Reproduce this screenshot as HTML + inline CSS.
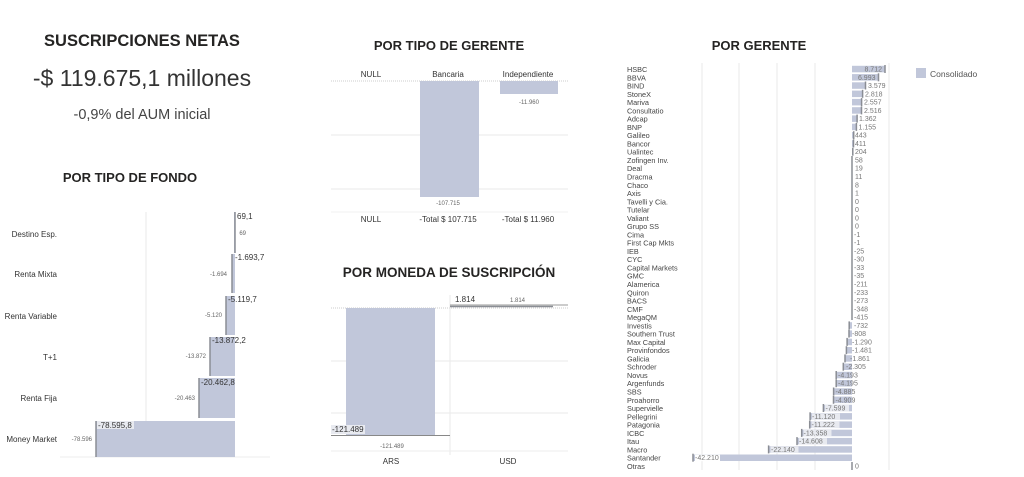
<!DOCTYPE html>
<html><head><meta charset="utf-8"><style>
html,body{margin:0;padding:0;background:#fff;}
svg{display:block;font-family:"Liberation Sans",sans-serif;}
.t{font-weight:bold;fill:#252423;}
.s{font-size:8px;fill:#333;}
.x{font-size:6px;fill:#666;}
.g{stroke:#eaeaea;stroke-width:1;}
.b{fill:#c1c7da;}
.e{stroke:#8a8d94;stroke-width:1.5;}
.n{font-size:7.3px;fill:#444;}
.v{font-size:7px;fill:#777;}
</style></head><body>
<svg width="1024" height="477" viewBox="0 0 1024 477">
<!-- Headline -->
<text class="t" x="142" y="46" font-size="16.5" text-anchor="middle">SUSCRIPCIONES NETAS</text>
<text x="142" y="86" font-size="23" fill="#333" text-anchor="middle">-$ 119.675,1 millones</text>
<text x="142" y="119" font-size="14.5" fill="#444" text-anchor="middle">-0,9% del AUM inicial</text>
<text class="t" x="130" y="182" font-size="13" text-anchor="middle">POR TIPO DE FONDO</text>

<!-- Tipo de fondo -->
<line class="g" x1="146" y1="212" x2="146" y2="457"/>
<line x1="60" y1="457" x2="270" y2="457" stroke="#eee"/>
<g class="s" text-anchor="end">
<text x="57" y="237">Destino Esp.</text>
<text x="57" y="277">Renta Mixta</text>
<text x="57" y="319">Renta Variable</text>
<text x="57" y="360">T+1</text>
<text x="57" y="401">Renta Fija</text>
<text x="57" y="442">Money Market</text>
</g>
<rect class="b" x="234" y="212" width="1" height="41"/>
<line class="e" x1="235" y1="212" x2="235" y2="253"/>
<rect class="b" x="232" y="254" width="3" height="39"/>
<line class="e" x1="232" y1="254" x2="232" y2="293"/>
<rect class="b" x="226" y="296" width="9" height="39"/>
<line class="e" x1="226" y1="296" x2="226" y2="335"/>
<rect class="b" x="210" y="337" width="25" height="39"/>
<line class="e" x1="210" y1="337" x2="210" y2="376"/>
<rect class="b" x="199" y="378" width="36" height="40"/>
<line class="e" x1="199" y1="378" x2="199" y2="418"/>
<rect class="b" x="96" y="421" width="139" height="36"/>
<line class="e" x1="96" y1="421" x2="96" y2="457"/>
<g class="s">
<text x="237" y="219">69,1</text>
<text x="235" y="260">-1.693,7</text>
<text x="228" y="302">-5.119,7</text>
<text x="212" y="343">-13.872,2</text>
<text x="201" y="385">-20.462,8</text>
<rect x="97" y="421" width="37" height="8" fill="#e8eaf0"/>
<text x="98" y="428">-78.595,8</text>
</g>
<g class="x" text-anchor="end">
<text x="246" y="235">69</text>
<text x="227" y="276">-1.694</text>
<text x="222" y="317">-5.120</text>
<text x="206" y="358">-13.872</text>
<text x="195" y="400">-20.463</text>
<text x="92" y="441">-78.596</text>
</g>

<!-- Tipo de gerente -->
<text class="t" x="449" y="50" font-size="13" text-anchor="middle">POR TIPO DE GERENTE</text>
<g class="s" text-anchor="middle">
<text x="371" y="77">NULL</text>
<text x="448" y="77">Bancaria</text>
<text x="528" y="77">Independiente</text>
</g>
<line x1="331" y1="81" x2="568" y2="81" stroke="#ccc" stroke-dasharray="1,1"/>
<line class="g" x1="331" y1="135" x2="568" y2="135"/>
<line class="g" x1="331" y1="189" x2="568" y2="189"/>
<rect class="b" x="420" y="81" width="59" height="116"/>
<rect class="b" x="500" y="81" width="58" height="13"/>
<text class="x" x="448" y="205" text-anchor="middle">-107.715</text>
<text class="x" x="529" y="104" text-anchor="middle">-11.960</text>
<line x1="331" y1="212" x2="568" y2="212" stroke="#f2f2f2"/>
<g class="s" text-anchor="middle">
<text x="371" y="222">NULL</text>
<text x="448" y="222">-Total $ 107.715</text>
<text x="528" y="222">-Total $ 11.960</text>
</g>

<!-- Moneda -->
<text class="t" x="449" y="277" font-size="13.5" text-anchor="middle">POR MONEDA DE SUSCRIPCIÓN</text>
<line x1="331" y1="308" x2="568" y2="308" stroke="#ccc" stroke-dasharray="1,1"/>
<line class="g" x1="331" y1="361" x2="568" y2="361"/>
<line class="g" x1="331" y1="413" x2="568" y2="413"/>
<line class="g" x1="450" y1="295" x2="450" y2="455"/>
<rect class="b" x="346" y="308" width="89" height="128"/>
<line x1="331" y1="435.5" x2="450" y2="435.5" stroke="#888" stroke-width="1"/>
<line x1="450" y1="305" x2="568" y2="305" stroke="#999" stroke-width="1"/>
<line x1="450" y1="306.5" x2="553" y2="306.5" stroke="#8a8d94" stroke-width="1.5"/>
<rect x="331" y="425" width="34" height="9" fill="#e8eaf0"/>
<text class="s" x="332" y="432">-121.489</text>
<text class="x" x="392" y="448" text-anchor="middle">-121.489</text>
<text class="s" x="455" y="302">1.814</text>
<text class="x" x="510" y="302">1.814</text>
<line x1="331" y1="451" x2="568" y2="451" stroke="#eee"/>
<g class="s" text-anchor="middle">
<text x="391" y="464">ARS</text>
<text x="508" y="464">USD</text>
</g>

<!-- Por gerente -->
<text class="t" x="759" y="50" font-size="13" text-anchor="middle">POR GERENTE</text>
<g class="g">
<line x1="702" y1="63" x2="702" y2="470"/>
<line x1="739" y1="63" x2="739" y2="470"/>
<line x1="777" y1="63" x2="777" y2="470"/>
<line x1="815" y1="63" x2="815" y2="470"/>
<line x1="889" y1="63" x2="889" y2="470"/>
</g>
<rect class="b" x="916" y="68" width="10" height="10"/>
<text x="930" y="77" font-size="8.5" fill="#555">Consolidado</text>
<g class="n">
<text x="627" y="72">HSBC</text><text x="627" y="80.3">BBVA</text><text x="627" y="88.5">BIND</text><text x="627" y="96.8">StoneX</text><text x="627" y="105.1">Mariva</text><text x="627" y="113.4">Consultatio</text><text x="627" y="121.6">Adcap</text><text x="627" y="129.9">BNP</text><text x="627" y="138.2">Galileo</text><text x="627" y="146.4">Bancor</text><text x="627" y="154.7">Ualintec</text><text x="627" y="163">Zofingen Inv.</text><text x="627" y="171.2">Deal</text><text x="627" y="179.5">Dracma</text><text x="627" y="187.8">Chaco</text><text x="627" y="196">Axis</text><text x="627" y="204.3">Tavelli y Cia.</text><text x="627" y="212.6">Tutelar</text><text x="627" y="220.9">Valiant</text><text x="627" y="229.1">Grupo SS</text><text x="627" y="237.4">Cima</text><text x="627" y="245.7">First Cap Mkts</text><text x="627" y="253.9">IEB</text><text x="627" y="262.2">CYC</text><text x="627" y="270.5">Capital Markets</text><text x="627" y="278.7">GMC</text><text x="627" y="287">Alamerica</text><text x="627" y="295.3">Quiron</text><text x="627" y="303.6">BACS</text><text x="627" y="311.8">CMF</text><text x="627" y="320.1">MegaQM</text><text x="627" y="328.4">Investis</text><text x="627" y="336.6">Southern Trust</text><text x="627" y="344.9">Max Capital</text><text x="627" y="353.2">Provinfondos</text><text x="627" y="361.4">Galicia</text><text x="627" y="369.7">Schroder</text><text x="627" y="378">Novus</text><text x="627" y="386.2">Argenfunds</text><text x="627" y="394.5">SBS</text><text x="627" y="402.8">Proahorro</text><text x="627" y="411">Supervielle</text><text x="627" y="419.3">Pellegrini</text><text x="627" y="427.6">Patagonia</text><text x="627" y="435.9">ICBC</text><text x="627" y="444.1">Itau</text><text x="627" y="452.4">Macro</text><text x="627" y="460.7">Santander</text><text x="627" y="469">Otras</text>
</g>
<g class="b">
<rect x="852" y="65.8" width="32.8" height="6.5"/><rect x="852" y="74.1" width="26.3" height="6.5"/><rect x="852" y="82.3" width="13.5" height="6.5"/><rect x="852" y="90.6" width="10.6" height="6.5"/><rect x="852" y="98.9" width="9.6" height="6.5"/><rect x="852" y="107.2" width="9.5" height="6.5"/><rect x="852" y="115.4" width="5.1" height="6.5"/><rect x="852" y="123.7" width="4.4" height="6.5"/><rect x="852" y="132" width="1.7" height="6.5"/><rect x="852" y="140.2" width="1.5" height="6.5"/><rect x="852" y="148.5" width="0.8" height="6.5"/>
<rect x="849.2" y="322.2" width="2.8" height="6.5"/><rect x="849" y="330.4" width="3" height="6.5"/><rect x="847.1" y="338.7" width="4.9" height="6.5"/><rect x="846.4" y="347" width="5.6" height="6.5"/><rect x="845" y="355.2" width="7" height="6.5"/><rect x="843.3" y="363.5" width="8.7" height="6.5"/><rect x="836.2" y="371.8" width="15.8" height="6.5"/><rect x="836.2" y="380" width="15.8" height="6.5"/><rect x="833.6" y="388.3" width="18.4" height="6.5"/><rect x="833.5" y="396.6" width="18.5" height="6.5"/><rect x="823.4" y="404.8" width="28.6" height="6.5"/><rect x="810.1" y="413.1" width="41.9" height="6.5"/><rect x="809.7" y="421.4" width="42.3" height="6.5"/><rect x="801.7" y="429.7" width="50.3" height="6.5"/><rect x="797" y="437.9" width="55" height="6.5"/><rect x="768.6" y="446.2" width="83.4" height="6.5"/><rect x="693" y="454.5" width="159" height="6.5"/>
</g>
<g class="e">
<line x1="885" y1="65" x2="885" y2="73"/><line x1="878.5" y1="73.3" x2="878.5" y2="81.3"/><line x1="865.5" y1="81.5" x2="865.5" y2="89.5"/><line x1="862.6" y1="89.8" x2="862.6" y2="97.8"/><line x1="861.6" y1="98.1" x2="861.6" y2="106.1"/><line x1="861.5" y1="106.4" x2="861.5" y2="114.4"/><line x1="857.1" y1="114.6" x2="857.1" y2="122.6"/><line x1="856.4" y1="122.9" x2="856.4" y2="130.9"/><line x1="853.7" y1="131.2" x2="853.7" y2="139.2"/><line x1="853.5" y1="139.4" x2="853.5" y2="147.4"/><line x1="852.8" y1="147.7" x2="852.8" y2="155.7"/>
<line x1="852" y1="156" x2="852" y2="320"/>
<line x1="849.2" y1="321.4" x2="849.2" y2="329.4"/><line x1="849" y1="329.6" x2="849" y2="337.6"/><line x1="847.1" y1="337.9" x2="847.1" y2="345.9"/><line x1="846.4" y1="346.2" x2="846.4" y2="354.2"/><line x1="845" y1="354.4" x2="845" y2="362.4"/><line x1="843.3" y1="362.7" x2="843.3" y2="370.7"/><line x1="836.2" y1="371" x2="836.2" y2="379"/><line x1="836.2" y1="379.2" x2="836.2" y2="387.2"/><line x1="833.6" y1="387.5" x2="833.6" y2="395.5"/><line x1="833.5" y1="395.8" x2="833.5" y2="403.8"/><line x1="823.4" y1="404" x2="823.4" y2="412"/><line x1="810.1" y1="412.3" x2="810.1" y2="420.3"/><line x1="809.7" y1="420.6" x2="809.7" y2="428.6"/><line x1="801.7" y1="428.9" x2="801.7" y2="436.9"/><line x1="797" y1="437.1" x2="797" y2="445.1"/><line x1="768.6" y1="445.4" x2="768.6" y2="453.4"/><line x1="693" y1="453.7" x2="693" y2="461.7"/><line x1="852" y1="462" x2="852" y2="470"/>
</g>
<g class="v">
<text x="882" y="71.5" text-anchor="end">8.712</text><text x="875.5" y="79.8" text-anchor="end">6.993</text>
<text x="868" y="88">3.579</text><text x="865" y="96.3">2.818</text><text x="864" y="104.6">2.557</text><text x="864" y="112.9">2.516</text><text x="859" y="121.1">1.362</text><text x="858.5" y="129.4">1.155</text>
<text x="855" y="137.7">443</text><text x="855" y="145.9">411</text><text x="855" y="154.2">204</text><text x="855" y="162.5">58</text><text x="855" y="170.7">19</text><text x="855" y="179">11</text><text x="855" y="187.3">8</text><text x="855" y="195.5">1</text><text x="855" y="203.8">0</text><text x="855" y="212.1">0</text><text x="855" y="220.4">0</text><text x="855" y="228.6">0</text><text x="854" y="236.9">-1</text><text x="854" y="245.2">-1</text><text x="854" y="253.4">-25</text><text x="854" y="261.7">-30</text><text x="854" y="270">-33</text><text x="854" y="278.2">-35</text><text x="854" y="286.5">-211</text><text x="854" y="294.8">-233</text><text x="854" y="303.1">-273</text><text x="854" y="311.3">-348</text><text x="854" y="319.6">-415</text><text x="854" y="327.9">-732</text><text x="852" y="336.1">-808</text><text x="852" y="344.4">-1.290</text><text x="852" y="352.7">-1.481</text><text x="850" y="360.9">-1.861</text><text x="846" y="369.2">-2.305</text><text x="838" y="377.5">-4.193</text><text x="838" y="385.7">-4.195</text><text x="835.5" y="394">-4.885</text><text x="835.5" y="402.3">-4.909</text>
<rect x="825" y="405" width="24" height="6.5" fill="#e8eaf0"/><text x="825.5" y="410.5">-7.599</text>
<rect x="812" y="413.3" width="28" height="6.5" fill="#e8eaf0"/><text x="812" y="418.8">-11.120</text>
<rect x="811.5" y="421.6" width="28" height="6.5" fill="#e8eaf0"/><text x="811.5" y="427.1">-11.222</text>
<rect x="803.5" y="429.9" width="28" height="6.5" fill="#e8eaf0"/><text x="803.5" y="435.4">-13.358</text>
<rect x="799" y="438.1" width="28" height="6.5" fill="#e8eaf0"/><text x="799" y="443.6">-14.608</text>
<rect x="770.5" y="446.4" width="28" height="6.5" fill="#e8eaf0"/><text x="771" y="451.9">-22.140</text>
<rect x="695" y="454.7" width="25" height="6.5" fill="#fff"/><text x="695" y="460.2">-42.210</text>
<text x="855" y="468.5">0</text>
</g>
</svg>
</body></html>
